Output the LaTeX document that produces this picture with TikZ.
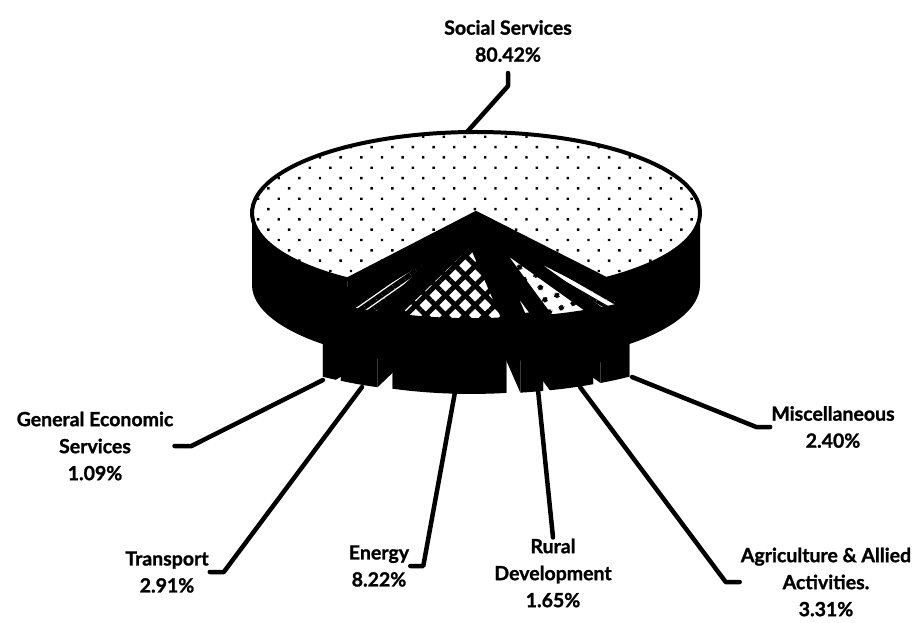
\documentclass[tikz,border=0pt]{standalone}
\usepackage{fontspec}
\setmainfont{Lato}[BoldFeatures={FakeBold=1.2}]
\usetikzlibrary{calc,patterns.meta}

\begin{document}
\begin{tikzpicture}[
          x=1pt, y=1pt,
          share/.style={font=\fontsize{19.5}{27}\selectfont\bfseries, align=center, inner sep=1pt},
          leader/.style={line width=4.5pt, line cap=round, line join=round},
          crust/.style={preaction={fill=white}, draw=black, line width=4pt, line join=round, pattern={Dots[angle=45,distance=14.6pt,radius=1.7pt]}},
          sliver/.style={preaction={fill=white}, draw=black, line width=7.5pt, line join=round},
          gesTop/.style={line width=9pt},
          transTop/.style={pattern={Lines[angle=35,distance=7pt,line width=5.5pt]}},
          energyTop/.style={pattern={Hatch[angle=45,distance=14pt,line width=5pt]}},
          ruralTop/.style={line width=15pt},
          agriTop/.style={pattern={Dots[angle=20,distance=13pt,radius=3pt]}},
          miscTop/.style={pattern={Lines[angle=-30,distance=8pt,line width=3.5pt]}}
        ]
          \useasboundingbox (0,0) rectangle (916,622);
          \coordinate (C) at (476,409);

          % Social Services: walls, cut faces, top
          \fill ($(C)+(180:224pt and 81pt)$) arc[start angle=180, end angle=235, x radius=224pt, y radius=81pt] -- ++(0,-72) arc[start angle=235, end angle=180, x radius=224pt, y radius=81pt] -- cycle;
          \fill ($(C)+(305.49:224pt and 81pt)$) arc[start angle=305.49, end angle=360, x radius=224pt, y radius=81pt] -- ++(0,-72) arc[start angle=360, end angle=305.49, x radius=224pt, y radius=81pt] -- cycle;
          \fill (C) -- ($(C)+(235:224pt and 81pt)$) -- ++(0,-72) -- ($(C)+(0,-72)$) -- cycle;
          \fill (C) -- ($(C)+(305.49:224pt and 81pt)$) -- ++(0,-72) -- ($(C)+(0,-72)$) -- cycle;
          \draw[crust] (C) -- ($(C)+(305.49:224pt and 81pt)$) arc[start angle=305.49, end angle=595, x radius=224pt, y radius=81pt] -- cycle;

          % small slices, pulled out of the gap
          \foreach \a/\b/\sty in {235/238.92/gesTop, 296.85/305.49/miscTop, 238.92/249.40/transTop, 284.93/296.85/agriTop, 278.99/284.93/ruralTop, 249.40/278.99/energyTop} {
            \pgfmathsetmacro\m{(\a+\b)/2}
            \coordinate (c) at ({476+45*cos(\m)},{397+16*sin(\m)});
            \coordinate (ta) at ($(c)+(\a:224pt and 81pt)$);
            \coordinate (tb) at ($(c)+(\b:224pt and 81pt)$);
            \fill (c) -- (ta) -- ++(0,-72) arc[start angle=\a, end angle=\b, x radius=224pt, y radius=81pt] -- (tb) -- cycle;
            \fill (c) -- (ta) -- ++(0,-72) -- ($(c)+(0,-72)$) -- cycle;
            \fill (c) -- (tb) -- ++(0,-72) -- ($(c)+(0,-72)$) -- cycle;
            \draw[sliver, \sty] (c) -- (ta) arc[start angle=\a, end angle=\b, x radius=224pt, y radius=81pt] -- cycle;
          }

          % labels
          \node[share] (social) at (508,581) {Social Services\\80.42\%};
          \node[share] (ges) at (95,176) {General Economic\\Services\\1.09\%};
          \node[share] (trans) at (167,50) {Transport\\2.91\%};
          \node[share] (energy) at (379,56) {Energy\\8.22\%};
          \node[share] (rural) at (553,49) {Rural\\Development\\1.65\%};
          \node[share] (agri) at (826,40) {Agriculture \& Allied\\Activities.\\3.31\%};
          \node[share] (misc) at (833,195) {Miscellaneous\\2.40\%};

          % leader lines
          \coordinate (pSoc) at (467,490);
          \coordinate (pGes) at (323,242);
          \coordinate (pTra) at (362,235);
          \coordinate (pEne) at (455,230);
          \coordinate (pRur) at (538,232);
          \coordinate (pAgr) at (580,235);
          \coordinate (pMis) at (632,245);
          \draw[leader] (social.south) ++(0,-10) -- ++(0,-13) -- (pSoc);
          \draw[leader] (ges.east) -- ++(17,0) -- (pGes);
          \draw[leader] (trans.east) -- ++(14,0) -- (pTra);
          \draw[leader] (energy.east) -- ++(13,0) -- (pEne);
          \draw[leader] (rural.north) -- (pRur);
          \draw[leader] (agri.west) -- ++(-14,0) -- (pAgr);
          \draw[leader] (misc.west) -- ++(-14,0) -- (pMis);

        \end{tikzpicture}
\end{document}
